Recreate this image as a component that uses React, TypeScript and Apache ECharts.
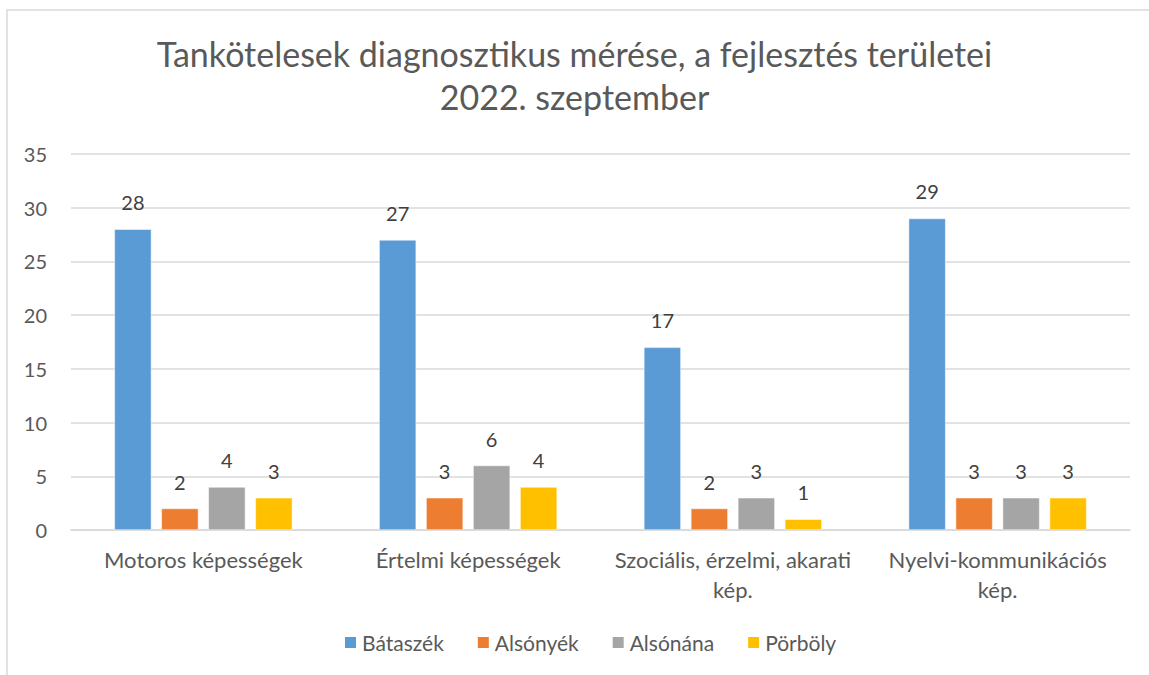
import React, { useEffect, useRef } from "react";
import * as echarts from "echarts";

const titleLines = ["Tankötelesek diagnosztikus mérése, a fejlesztés területei", "2022. szeptember"];
const categories = ["Motoros képességek", "Értelmi képességek", "Szociális, érzelmi, akarati\nkép.", "Nyelvi-kommunikációs\nkép."];
const seriesNames = ["Bátaszék", "Alsónyék", "Alsónána", "Pörböly"];
const bataszek = [28, 27, 17, 29];
const alsonyek = [2, 3, 2, 3];
const alsonana = [4, 6, 3, 3];
const porboly = [3, 4, 1, 3];
const colors = ["#5B9BD5", "#ED7D31", "#A5A5A5", "#FFC000"];
const yTicks = { min: 0, max: 35, interval: 5 };

const FONT = "Lato, 'Open Sans', sans-serif";

export default function App() {
  const ref = useRef<HTMLDivElement>(null);
  useEffect(() => {
    if (!ref.current) return;
    const chart = echarts.init(ref.current, undefined, { renderer: "svg" });
    const values = [bataszek, alsonyek, alsonana, porboly];
    chart.setOption({
      animation: false,
      backgroundColor: "#ffffff",
      color: colors,
      textStyle: { fontFamily: FONT },
      title: {
        text: titleLines.join("\n"),
        left: "center",
        top: 27,
        textStyle: { fontFamily: FONT, fontSize: 34, fontWeight: "normal", color: "#595959", lineHeight: 43 },
      },
      graphic: [
        {
          type: "rect",
          shape: { x: 7, y: 10, width: 1200, height: 700 },
          style: { fill: "none", stroke: "#d9d9d9", lineWidth: 1.5 },
          silent: true,
        },
      ],
      legend: {
        bottom: 17,
        left: 338,
        itemWidth: 13,
        itemHeight: 13,
        itemGap: 32,
        icon: "rect",
        textStyle: { fontFamily: FONT, fontSize: 21, color: "#595959" },
        data: seriesNames,
      },
      grid: { left: 71, right: 19, top: 154, bottom: 145, containLabel: false },
      xAxis: {
        type: "category",
        data: categories,
        axisLine: { lineStyle: { color: "#d9d9d9", width: 1.5 } },
        axisTick: { show: false },
        axisLabel: { fontFamily: FONT, fontSize: 22, color: "#595959", margin: 14, lineHeight: 30, interval: 0 },
      },
      yAxis: {
        type: "value",
        min: yTicks.min,
        max: yTicks.max,
        interval: yTicks.interval,
        axisLine: { show: false },
        axisTick: { show: false },
        splitLine: { lineStyle: { color: "#d9d9d9", width: 1.5 } },
        axisLabel: { fontFamily: FONT, fontSize: 20, color: "#595959", margin: 24 },
      },
      series: seriesNames.map((name, i) => ({
        name,
        type: "bar",
        data: values[i],
        barWidth: 37,
        barGap: "27%",
        itemStyle: { color: colors[i], borderColor: "#ffffff", borderWidth: 0.5 },
        label: {
          show: true,
          position: "top",
          distance: 17,
          fontFamily: FONT,
          fontSize: 20,
          color: "#404040",
        },
      })),
    });
    return () => chart.dispose();
  }, []);
  return (
    <div
      ref={ref}
      style={{ position: "fixed", left: 0, top: 0, width: 1149, height: 675 }}
    />
  );
}
